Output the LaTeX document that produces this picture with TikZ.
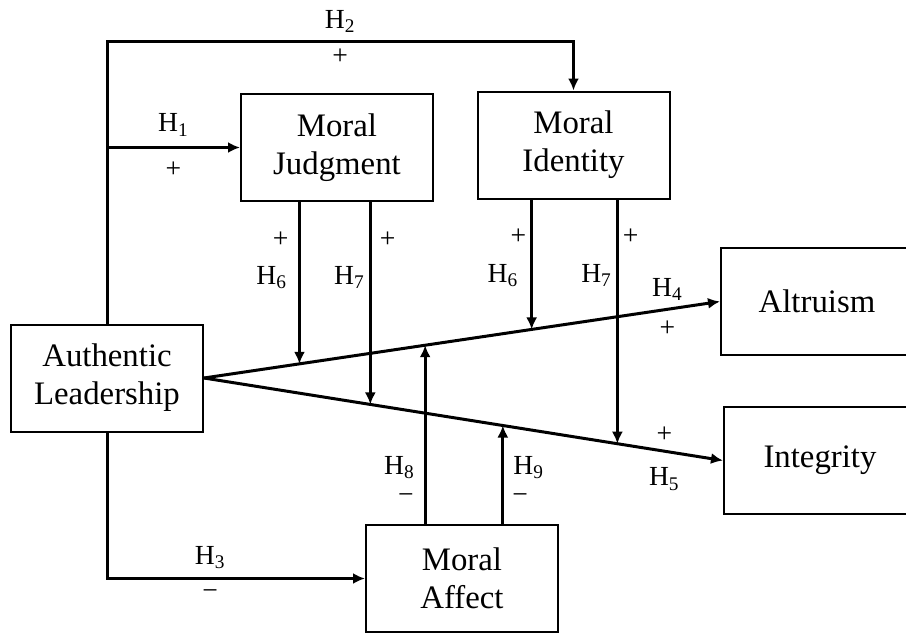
\documentclass[tikz,border=0pt]{standalone}
\usepackage{fontspec}
\setmainfont{Liberation Serif}
\usetikzlibrary{arrows.meta}

\begin{document}
\begin{tikzpicture}[x=0.5pt,y=-0.5pt,
    line/.style={draw, -{Latex[length=6pt,width=5.5pt]}, line width=1.5pt},
    var/.style={draw, line width=1pt, minimum width=96pt, minimum height=53.5pt,
      inner sep=0pt, align=center, font=\fontsize{16.4}{19}\selectfont},
    hyp/.style={inner sep=0pt, font=\fontsize{13.8}{16}\selectfont},
    ]
    \clip (0,0) rectangle (906,633);
    % Place nodes
    \node [var] (al) at (107,378) {Authentic\\Leadership};
    \node [var] (mj) at (337,147.5) {Moral\\Judgment};
    \node [var] (mi) at (573.5,145) {Moral\\Identity};
    \node [var] (alt) at (817,301.5) {Altruism};
    \node [var] (int) at (820,460.5) {Integrity};
    \node [var] (ma) at (462,578.5) {Moral\\Affect};
    \coordinate (top) at (107,41);

    % Draw edges
    \draw [line] (al.north) -- (top) -| node [hyp, pos=0.25, above=3.5pt] (h2) {H\textsubscript{2}}
      node [hyp, pos=0.25, below=3pt] (h2s) {+} (mi.north);
    \draw [line] (al.north |- mj.west) -- node [hyp, above=5pt] (h1) {H\textsubscript{1}}
      node [hyp, below=6.5pt] (h1s) {+} (mj.west);
    \draw [line] (al.south) |- node [hyp, pos=0.70, above=4pt] (h3) {H\textsubscript{3}}
      node [hyp, pos=0.70, below=5pt] (h3s) {−} (ma.west);
    \draw [line] (al.east) -- coordinate [pos=0.185] (a1) coordinate [pos=0.4286] (a2)
      coordinate [pos=0.635] (a3)
      node [hyp, pos=0.898, above=3.5pt] (h4) {H\textsubscript{4}}
      node [hyp, pos=0.898, below=5pt] (h4s) {+} (alt.west);
    \draw [line] (al.east) -- coordinate [pos=0.3205] (b1) coordinate [pos=0.5758] (b2)
      coordinate [pos=0.7965] (b3)
      node [hyp, pos=0.887, above=3.5pt] (h5s) {+}
      node [hyp, pos=0.887, below=7.5pt] (h5) {H\textsubscript{5}} (int.west);

    % Moderators
    \draw [line] (mj.south -| a1) -- node [hyp, pos=0.233, left=4.7pt] (h6as) {+}
      node [hyp, pos=0.467, left=5.5pt] (h6a) {H\textsubscript{6}} (a1);
    \draw [line] (mj.south -| b1) -- node [hyp, pos=0.187, right=4pt] (h7as) {+}
      node [hyp, pos=0.374, left=2pt] (h7a) {H\textsubscript{7}} (b1);
    \draw [line] (mi.south -| a3) -- node [hyp, pos=0.284, left=2pt] (h6bs) {+}
      node [hyp, pos=0.583, left=6pt] (h6b) {H\textsubscript{6}} (a3);
    \draw [line] (mi.south -| b3) -- node [hyp, pos=0.151, right=2pt] (h7bs) {+}
      node [hyp, pos=0.311, left=2pt] (h7b) {H\textsubscript{7}} (b3);
    \draw [line] (ma.north -| a2) -- node [hyp, pos=0.14, left=5pt] (h8s) {−}
      node [hyp, pos=0.317, left=4.5pt] (h8) {H\textsubscript{8}} (a2);
    \draw [line] (ma.north -| b2) -- node [hyp, pos=0.26, right=4pt] (h9s) {−}
      node [hyp, pos=0.573, right=4.5pt] (h9) {H\textsubscript{9}} (b2);
  \end{tikzpicture}
\end{document}
